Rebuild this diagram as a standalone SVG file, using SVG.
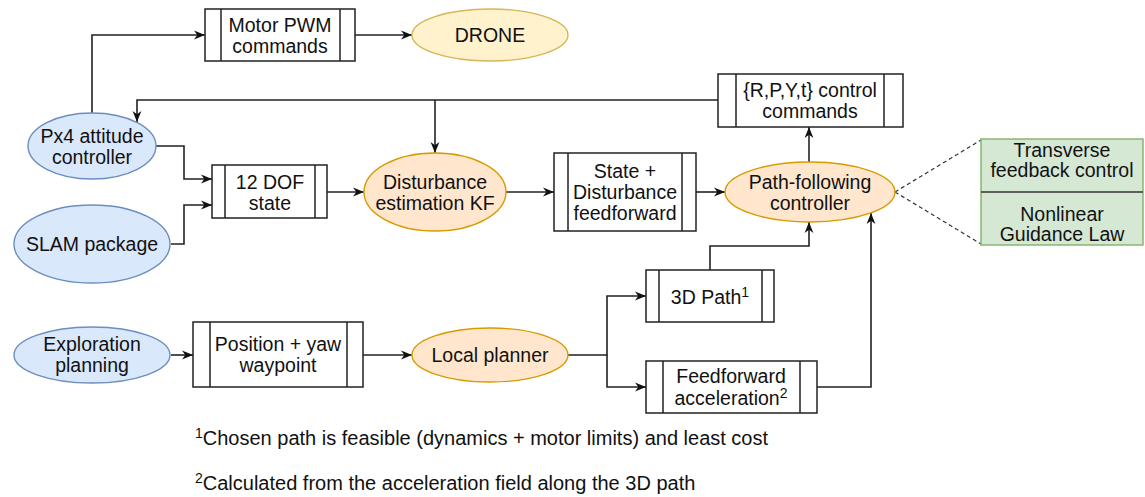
<svg xmlns="http://www.w3.org/2000/svg" width="1145" height="497" viewBox="0 0 1145 497">
  <style>
    text { font-family: "Liberation Sans", Arial, sans-serif; font-size: 19.5px; fill: #111; text-anchor: middle; }
    .note { font-size: 20px; text-anchor: start; }
    .sup { font-size: 14px; }
    .proc { fill: #fff; stroke: #222; stroke-width: 1.5; }
    .bar { stroke: #222; stroke-width: 1.5; fill: none; }
    .blue { fill: #dae8fc; stroke: #6c8ebf; stroke-width: 1.4; }
    .orange { fill: #ffe6cc; stroke: #d79b00; stroke-width: 1.4; }
    .yellow { fill: #fff2cc; stroke: #d6b656; stroke-width: 1.4; }
    .green { fill: #d5e8d4; stroke: #82b366; stroke-width: 1.4; }
    .edge { fill: none; stroke: #222; stroke-width: 1.6; marker-end: url(#arrow); }
    .dash { fill: none; stroke: #333; stroke-width: 1.2; stroke-dasharray: 4 3; }
  </style>
  <defs>
    <marker id="arrow" viewBox="0 0 10 10" refX="10" refY="5" markerWidth="11" markerHeight="11" markerUnits="userSpaceOnUse" orient="auto">
      <path d="M0,1 L10,5 L0,9 L3,5 Z" fill="#111"/>
    </marker>
  </defs>

  <rect width="1145" height="497" fill="#fff"/>

  <!-- connectors -->
  <g id="connectors">
    <path class="edge" d="M92,113 V35 H205"/>
    <path class="edge" d="M355,35 H412"/>
    <path class="edge" d="M718,100 H137 V122"/>
    <path class="edge" d="M435,100 V153"/>
    <path class="edge" d="M156,146 H184 V179 H212"/>
    <path class="edge" d="M171,244 H184 V205 H212"/>
    <path class="edge" d="M327,192 H364"/>
    <path class="edge" d="M506,192 H554"/>
    <path class="edge" d="M696,192 H725"/>
    <path class="edge" d="M809,162 V127"/>
    <path class="edge" d="M171,355 H193"/>
    <path class="edge" d="M363,355 H412"/>
    <path class="edge" d="M568,355 H607 V296 H646"/>
    <path class="edge" d="M607,355 V387 H646"/>
    <path class="edge" d="M710,270 V246 H809 V222"/>
    <path class="edge" d="M817,387 H871 V213"/>
    <path class="dash" d="M895,192 L981,140 M895,192 L981,244"/>
  </g>

  <!-- Motor PWM commands -->
  <g id="motor-pwm">
    <rect class="proc" x="205" y="9" width="150" height="52"/>
    <path class="bar" d="M221,9 V61 M340,9 V61"/>
    <text x="280" y="32">Motor PWM</text>
    <text x="280" y="53">commands</text>
  </g>

  <!-- DRONE -->
  <g id="drone">
    <ellipse class="yellow" cx="490" cy="35" rx="78" ry="26"/>
    <text x="490" y="42">DRONE</text>
  </g>

  <!-- {R,P,Y,t} control commands -->
  <g id="rpyt-commands">
    <rect class="proc" x="718" y="74" width="185" height="53"/>
    <path class="bar" d="M736,74 V127 M884,74 V127"/>
    <text x="810" y="97">{R,P,Y,t} control</text>
    <text x="810" y="118">commands</text>
  </g>

  <!-- Px4 attitude controller -->
  <g id="px4">
    <ellipse class="blue" cx="92" cy="146" rx="64" ry="33"/>
    <text x="92" y="143">Px4 attitude</text>
    <text x="92" y="164">controller</text>
  </g>

  <!-- SLAM package -->
  <g id="slam">
    <ellipse class="blue" cx="92" cy="244" rx="78" ry="39"/>
    <text x="92" y="251">SLAM package</text>
  </g>

  <!-- 12 DOF state -->
  <g id="dof-state">
    <rect class="proc" x="212" y="165" width="115" height="53"/>
    <path class="bar" d="M225,165 V218 M315,165 V218"/>
    <text x="270" y="189">12 DOF</text>
    <text x="270" y="210">state</text>
  </g>

  <!-- Disturbance estimation KF -->
  <g id="disturbance-kf">
    <ellipse class="orange" cx="435" cy="192" rx="71" ry="39"/>
    <text x="435" y="189">Disturbance</text>
    <text x="435" y="210">estimation KF</text>
  </g>

  <!-- State + Disturbance feedforward -->
  <g id="state-ff">
    <rect class="proc" x="554" y="153" width="142" height="78"/>
    <path class="bar" d="M568,153 V231 M682,153 V231"/>
    <text x="625" y="178">State +</text>
    <text x="625" y="199">Disturbance</text>
    <text x="625" y="220">feedforward</text>
  </g>

  <!-- Path-following controller -->
  <g id="path-following">
    <ellipse class="orange" cx="810" cy="192" rx="85" ry="30"/>
    <text x="810" y="189">Path-following</text>
    <text x="810" y="210">controller</text>
  </g>

  <!-- controller internals -->
  <g id="controller-parts">
    <rect class="green" x="981" y="139" width="162" height="106"/>
    <path d="M981,192 H1143" stroke="#333" stroke-width="1.4"/>
    <text x="1062" y="157">Transverse</text>
    <text x="1062" y="177">feedback control</text>
    <text x="1062" y="221">Nonlinear</text>
    <text x="1062" y="241">Guidance Law</text>
  </g>

  <!-- Exploration planning -->
  <g id="exploration">
    <ellipse class="blue" cx="92" cy="355" rx="78" ry="28"/>
    <text x="92" y="351">Exploration</text>
    <text x="92" y="372">planning</text>
  </g>

  <!-- Position + yaw waypoint -->
  <g id="waypoint">
    <rect class="proc" x="193" y="322" width="170" height="65"/>
    <path class="bar" d="M210,322 V387 M347,322 V387"/>
    <text x="278" y="351">Position + yaw</text>
    <text x="278" y="372">waypoint</text>
  </g>

  <!-- Local planner -->
  <g id="local-planner">
    <ellipse class="orange" cx="490" cy="355" rx="78" ry="27"/>
    <text x="490" y="362">Local planner</text>
  </g>

  <!-- 3D Path -->
  <g id="path-3d">
    <rect class="proc" x="646" y="270" width="128" height="52"/>
    <path class="bar" d="M659,270 V322 M762,270 V322"/>
    <text x="710" y="304">3D Path<tspan class="sup" dy="-7">1</tspan></text>
  </g>

  <!-- Feedforward acceleration -->
  <g id="ff-accel">
    <rect class="proc" x="646" y="361" width="171" height="52"/>
    <path class="bar" d="M663,361 V413 M800,361 V413"/>
    <text x="731" y="383">Feedforward</text>
    <text x="731" y="405">acceleration<tspan class="sup" dy="-7">2</tspan></text>
  </g>

  <!-- footnotes -->
  <g id="footnotes">
    <text class="note" x="195" y="445"><tspan class="sup" dy="-7">1</tspan><tspan dy="7">Chosen path is feasible (dynamics + motor limits) and least cost</tspan></text>
    <text class="note" x="195" y="490"><tspan class="sup" dy="-7">2</tspan><tspan dy="7">Calculated from the acceleration field along the 3D path</tspan></text>
  </g>
</svg>
